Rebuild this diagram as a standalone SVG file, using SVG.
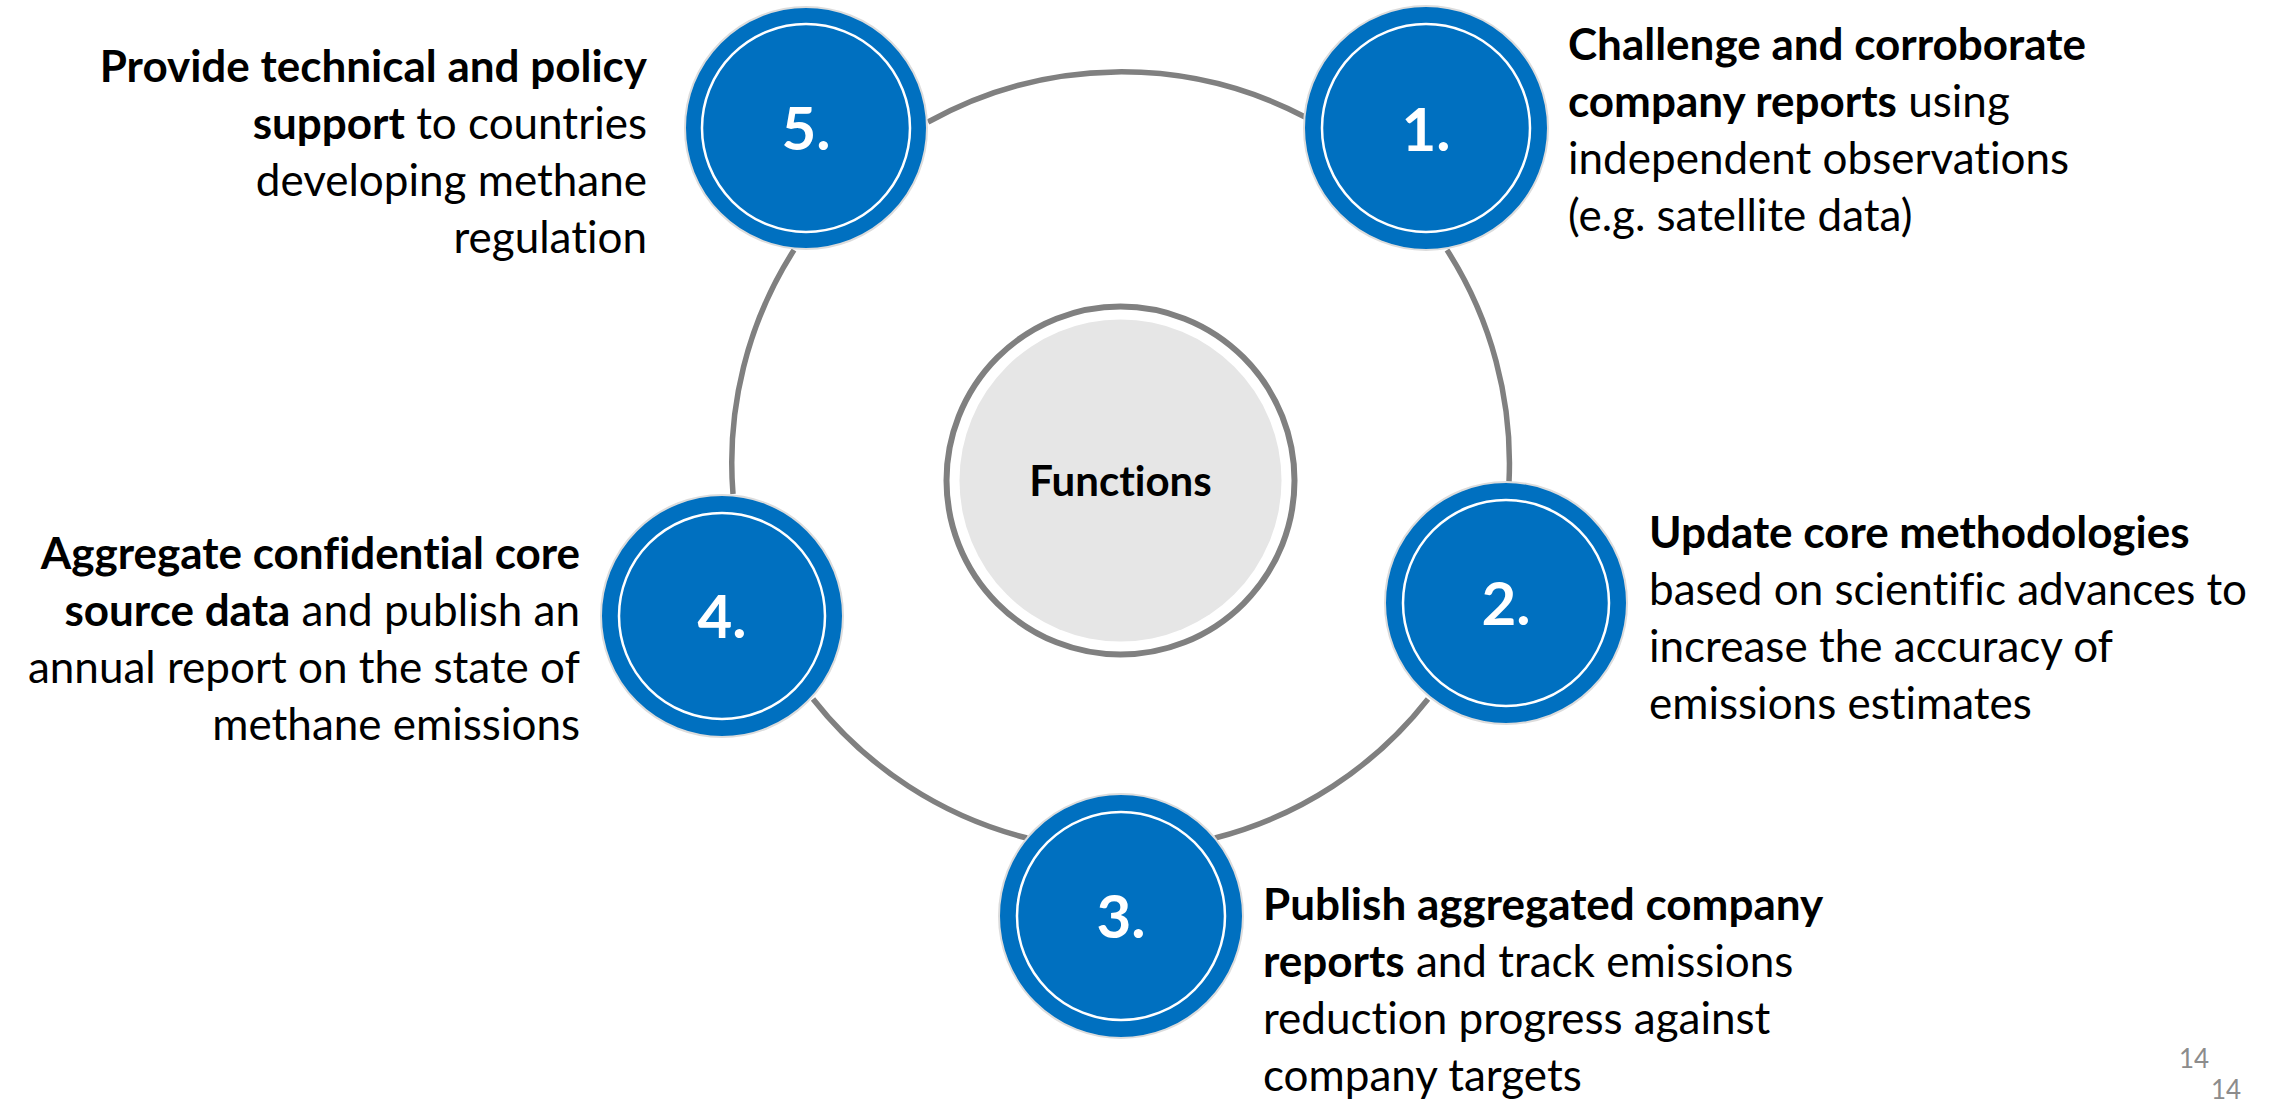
<svg xmlns="http://www.w3.org/2000/svg" width="2277" height="1101" viewBox="0 0 2277 1101">
<style>
text{font-variant-ligatures:none;font-feature-settings:"liga" 0,"dlig" 0}
.arc{fill:none;stroke:#808080;stroke-width:5.5}
.outer{fill:#0070C0;stroke:#dcdcdc;stroke-width:2}
.inner{fill:none;stroke:#ffffff;stroke-width:2.5}
.num{font-family:Lato,"Open Sans",sans-serif;font-weight:700;font-size:60px;fill:#ffffff;text-anchor:middle}
.body{font-family:Lato,"Open Sans",sans-serif;font-size:44px;fill:#000000}
.b{font-weight:700}
.r{text-anchor:end}
.page{font-family:Lato,"Open Sans",sans-serif;font-size:26px;fill:#8c8c8c}
</style>
<rect width="2277" height="1101" fill="#ffffff"/>
<g id="connectors">
<path class="arc" d="M928,122 A397,397 0 0 1 1305,117"/>
<path class="arc" d="M1447,250 A395,395 0 0 1 1509,482"/>
<path class="arc" d="M1428,699 A395,395 0 0 1 1215,838"/>
<path class="arc" d="M1027,838 A395,395 0 0 1 813,699"/>
<path class="arc" d="M733,494 A395,395 0 0 1 794,250"/>
</g>
<g id="center">
<circle cx="1120.5" cy="480.5" r="174" fill="#ffffff" stroke="#808080" stroke-width="6"/>
<circle cx="1120.5" cy="480.5" r="161" fill="#e6e6e6"/>
<text x="1120.5" y="496" text-anchor="middle" style="font-family:Lato,'Open Sans',sans-serif;font-weight:700;font-size:42px;fill:#000">Functions</text>
</g>
<g id="node1">
<circle class="outer" cx="1426" cy="128" r="122"/>
<circle class="inner" cx="1426" cy="128" r="104"/>
<text class="num" x="1426" y="151">1.</text>
<text class="body" x="1568" y="60"><tspan class="b">Challenge and corroborate</tspan></text>
<text class="body" x="1568" y="117"><tspan class="b">company reports</tspan> using</text>
<text class="body" x="1568" y="174">independent observations</text>
<text class="body" x="1568" y="231">(e.g. satellite data)</text>
</g>
<g id="node2">
<circle class="outer" cx="1506" cy="603" r="121"/>
<circle class="inner" cx="1506" cy="603" r="103"/>
<text class="num" x="1506" y="625">2.</text>
<text class="body" x="1649" y="548"><tspan class="b">Update core methodologies</tspan></text>
<text class="body" x="1649" y="605">based on scientific advances to</text>
<text class="body" x="1649" y="662">increase the accuracy of</text>
<text class="body" x="1649" y="719">emissions estimates</text>
</g>
<g id="node3">
<circle class="outer" cx="1121" cy="916" r="122"/>
<circle class="inner" cx="1121" cy="916" r="104"/>
<text class="num" x="1121" y="938">3.</text>
<text class="body" x="1263" y="920"><tspan class="b">Publish aggregated company</tspan></text>
<text class="body" x="1263" y="977"><tspan class="b">reports</tspan> and track emissions</text>
<text class="body" x="1263" y="1034">reduction progress against</text>
<text class="body" x="1263" y="1091">company targets</text>
</g>
<g id="node4">
<circle class="outer" cx="722" cy="616" r="121"/>
<circle class="inner" cx="722" cy="616" r="103"/>
<text class="num" x="722" y="638">4.</text>
<text class="body r" x="580" y="569"><tspan class="b">Aggregate confidential core</tspan></text>
<text class="body r" x="580" y="626"><tspan class="b">source data</tspan> and publish an</text>
<text class="body r" x="580" y="683">annual report on the state of</text>
<text class="body r" x="580" y="740">methane emissions</text>
</g>
<g id="node5">
<circle class="outer" cx="806" cy="128" r="121"/>
<circle class="inner" cx="806" cy="128" r="104"/>
<text class="num" x="806" y="150">5.</text>
<text class="body r" x="647" y="82"><tspan class="b">Provide technical and policy</tspan></text>
<text class="body r" x="647" y="139"><tspan class="b">support</tspan> to countries</text>
<text class="body r" x="647" y="196">developing methane</text>
<text class="body r" x="647" y="253">regulation</text>
</g>
<g id="page">
<text class="page" x="2179" y="1068">14</text>
<text class="page" x="2211" y="1099">14</text>
</g>
</svg>
